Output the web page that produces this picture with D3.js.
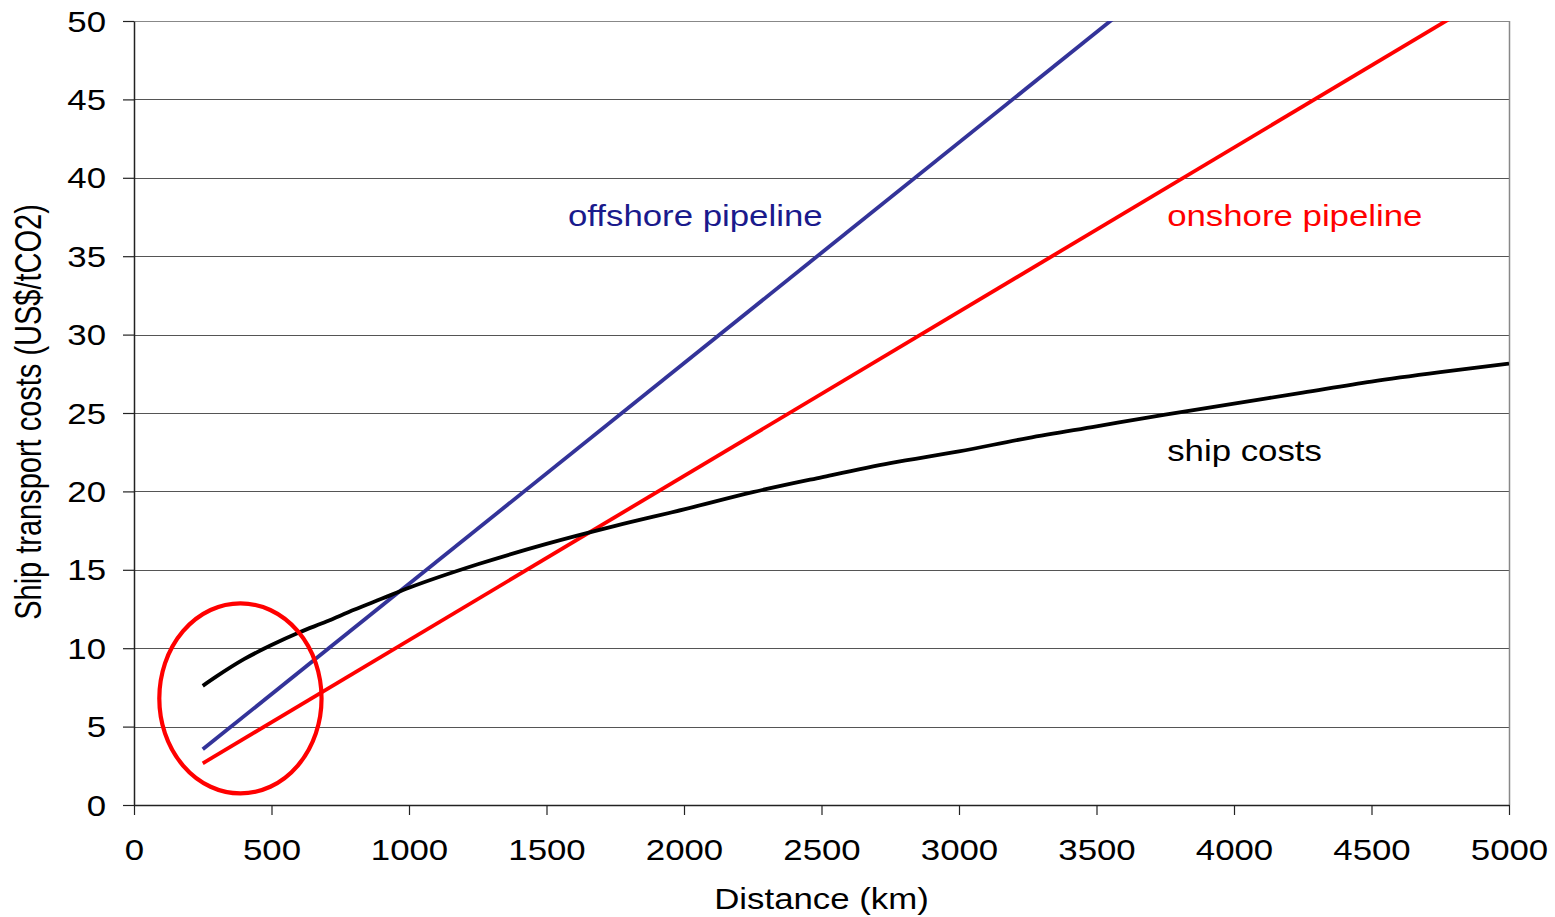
<!DOCTYPE html>
<html>
<head>
<meta charset="utf-8">
<script src="https://cdn.jsdelivr.net/npm/d3@7"></script>
<style>
  html, body { margin: 0; padding: 0; background: #fff; }
  svg { display: block; font-family: "Liberation Sans", Arial, sans-serif; }
</style>
</head>
<body>
<svg id="chart" width="1555" height="917"></svg>
<script>
// ---- data ----
const xTicks = [0, 500, 1000, 1500, 2000, 2500, 3000, 3500, 4000, 4500, 5000];
const yTicks = [0, 5, 10, 15, 20, 25, 30, 35, 40, 45, 50];

const shipKm   = [250, 300, 400, 500, 600, 700, 800, 900, 1000, 1250, 1500, 1750, 2000, 2250, 2500, 2750, 3000, 3250, 3500, 3750, 4000, 4250, 4500, 4750, 5000];
const shipCost = [7.6, 8.2, 9.3, 10.2, 11.0, 11.7, 12.45, 13.15, 13.85, 15.35, 16.65, 17.8, 18.85, 19.95, 20.9, 21.8, 22.55, 23.4, 24.15, 24.9, 25.6, 26.3, 27.0, 27.6, 28.15];

const pipeKm       = [250, 5000];
const offshoreCost = [3.55, 70.4];
const onshoreCost  = [2.66, 52.4];

const seriesLabels = ["offshore pipeline", "onshore pipeline", "ship costs"];
const labelPos = [[1578, 36.93], [3757, 36.93], [3757, 21.94]]; // [km, value] anchor of labels
const highlight = {km: 387, cost: 6.8, rKm: 295, rCost: 6.06};

// ---- layout ----
const W = 1555, H = 917;
const margin = {left: 134, right: 46, top: 21, bottom: 112};
const svg = d3.select("#chart");
const x = d3.scaleLinear().domain([0, 5000]).range([margin.left, W - margin.right]);
const y = d3.scaleLinear().domain([0, 50]).range([H - margin.bottom, margin.top]);
const SX = 1.2;   // horizontal stretch of text
const FS = 29;

svg.append("rect").attr("width", W).attr("height", H).attr("fill", "#fff");

// clip
svg.append("clipPath").attr("id", "plotclip").append("rect")
  .attr("x", x(0)).attr("y", y(50)).attr("width", x(5000) - x(0)).attr("height", y(0) - y(50));

// gridlines
svg.append("g").selectAll("line").data(yTicks.filter(d => d > 0)).join("line")
  .attr("x1", x(0)).attr("x2", x(5000))
  .attr("y1", d => Math.round(y(d)) + 0.5).attr("y2", d => Math.round(y(d)) + 0.5)
  .attr("stroke", d => d === 50 ? "#888" : "#555").attr("stroke-width", 1.2);

// right border
svg.append("line").attr("x1", x(5000) + 0.5).attr("x2", x(5000) + 0.5)
  .attr("y1", y(50)).attr("y2", y(0)).attr("stroke", "#888").attr("stroke-width", 1.5);

// axes
const yAxis = svg.append("g").attr("transform", `translate(${x(0)},0)`)
  .call(d3.axisLeft(y).tickValues(yTicks).tickSize(11).tickSizeOuter(0).tickPadding(0).tickFormat(d3.format("d")));
const xAxis = svg.append("g").attr("transform", `translate(0,${y(0)})`)
  .call(d3.axisBottom(x).tickValues(xTicks).tickSize(10).tickSizeOuter(0).tickPadding(0).tickFormat(d3.format("d")));

[yAxis, xAxis].forEach(a => {
  a.select(".domain").attr("stroke", "#222").attr("stroke-width", 1.5);
  a.selectAll(".tick line").attr("stroke", "#222").attr("stroke-width", 1.2);
  a.selectAll(".tick text").attr("font-size", FS).attr("fill", "#000")
    .attr("font-family", "'Liberation Sans', Arial, sans-serif");
});
yAxis.selectAll(".tick text").attr("x", -28 / SX).attr("dy", "0.35em")
  .attr("transform", `scale(${SX},1)`);
xAxis.selectAll(".tick text").attr("y", 34.5).attr("dy", "0.71em")
  .attr("transform", `scale(${SX},1)`);

// axis titles
svg.append("g").attr("transform", `translate(${(x(0) + x(5000)) / 2},909) scale(${SX},1)`)
  .append("text").attr("text-anchor", "middle").attr("font-size", FS).attr("fill", "#000")
  .text("Distance (km)");
svg.append("g").attr("transform", `translate(41,412) scale(1.25,1) rotate(-90)`)
  .append("text").attr("text-anchor", "middle").attr("font-size", FS).attr("fill", "#000")
  .text("Ship transport costs (US$/tCO2)");

// lines
const line = d3.line().x(d => x(d[0])).y(d => y(d[1])).curve(d3.curveMonotoneX);
const plot = svg.append("g").attr("clip-path", "url(#plotclip)");
const series = [
  {pts: pipeKm.map((k, i) => [k, offshoreCost[i]]), color: "#333399"},
  {pts: pipeKm.map((k, i) => [k, onshoreCost[i]]), color: "#ff0000"},
  {pts: shipKm.map((k, i) => [k, shipCost[i]]), color: "#000"}
];
plot.selectAll("path").data(series).join("path")
  .attr("d", d => line(d.pts)).attr("fill", "none")
  .attr("stroke", d => d.color).attr("stroke-width", 3.8)
  .attr("stroke-linejoin", "round");

// highlight ellipse
svg.append("ellipse")
  .attr("cx", x(highlight.km)).attr("cy", y(highlight.cost))
  .attr("rx", x(highlight.rKm) - x(0)).attr("ry", y(0) - y(highlight.rCost))
  .attr("fill", "none").attr("stroke", "#ff0000").attr("stroke-width", 4.2);

// series labels
const labelColors = ["#1a1a8c", "#ff0000", "#000"];
seriesLabels.forEach((t, i) => {
  svg.append("g").attr("transform", `translate(${x(labelPos[i][0])},${y(labelPos[i][1])}) scale(${SX},1)`)
    .append("text").attr("font-size", FS).attr("fill", labelColors[i]).text(t);
});
</script>
</body>
</html>
